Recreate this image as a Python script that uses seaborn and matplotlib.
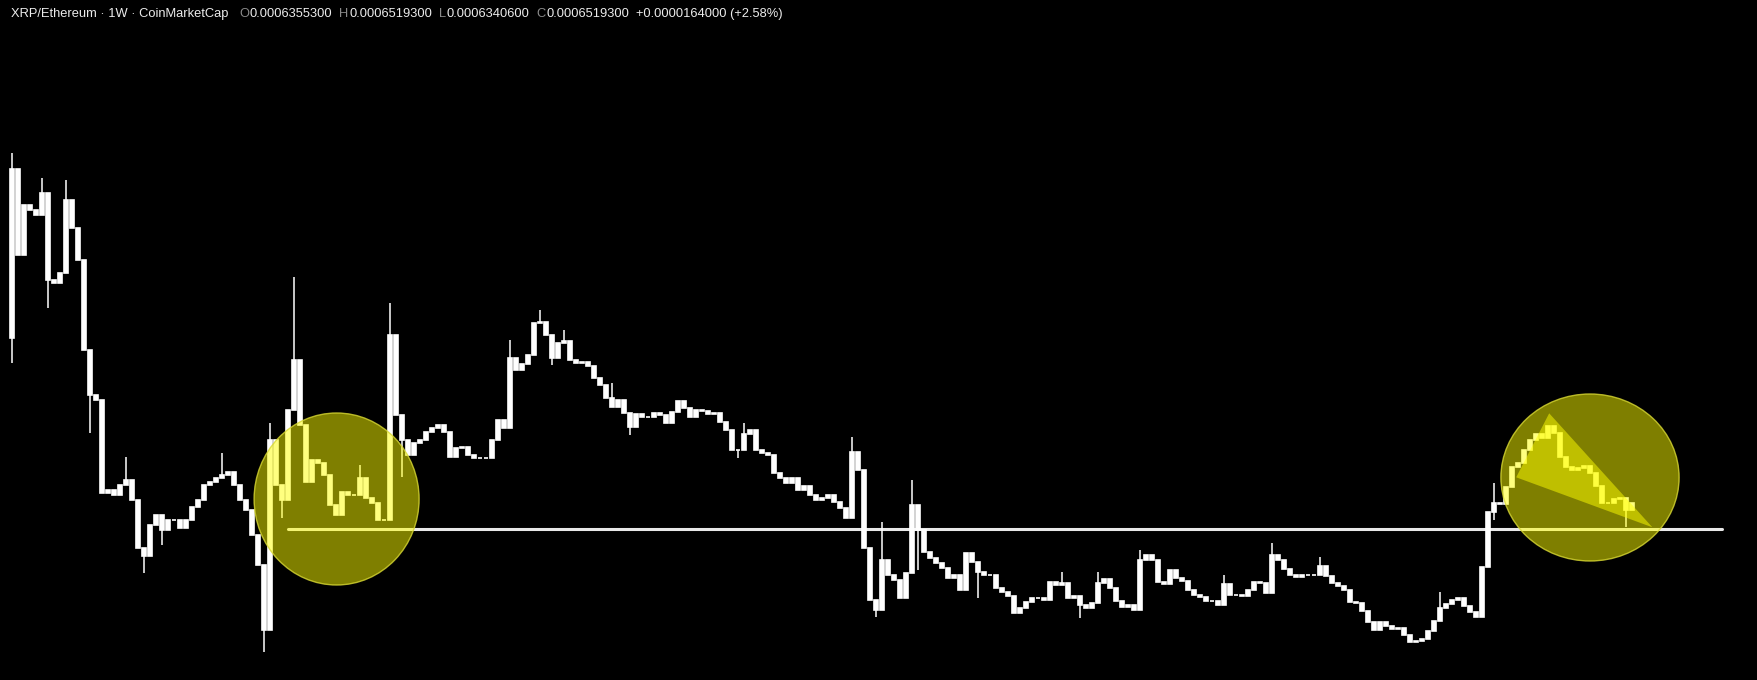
import numpy as np
import seaborn as sns
import matplotlib.pyplot as plt
from matplotlib.patches import Ellipse, Polygon

# XRP/ETH weekly closes, in chart points (1 pt = 3.56e-6 ETH)
close_pts = [
    518, 432, 482, 477, 472, 494, 407, 404, 414, 487, 459, 427, 337, 292, 287, 194, 197, 192, 202, 207,
    187, 139, 131, 162, 172, 157, 167, 167, 159, 167, 180, 187, 202, 205, 209, 212, 215, 202, 187, 177,
    152, 122, 57, 247, 202, 187, 277, 327, 262, 205, 227, 224, 212, 182, 172, 195, 192, 192, 209, 189,
    184, 167, 167, 352, 272, 247, 232, 244, 247, 255, 259, 262, 255, 230, 239, 240, 232, 229, 229, 229,
    247, 267, 259, 329, 317, 323, 332, 364, 365, 352, 329, 344, 346, 327, 324, 325, 321, 309, 302, 289,
    280, 287, 274, 260, 273, 270, 270, 274, 272, 264, 275, 286, 279, 270, 277, 276, 273, 274, 265, 257,
    237, 237, 253, 257, 237, 234, 232, 214, 209, 204, 209, 197, 201, 192, 187, 189, 192, 185, 179, 169,
    235, 217, 139, 87, 77, 127, 112, 107, 89, 114, 182, 157, 135, 129, 124, 119, 109, 112, 97, 134,
    125, 115, 112, 112, 99, 95, 91, 74, 79, 85, 89, 89, 87, 105, 102, 104, 89, 91, 82, 79,
    84, 104, 108, 99, 86, 80, 82, 77, 127, 132, 127, 105, 103, 117, 109, 106, 97, 92, 90, 86,
    86, 82, 103, 92, 92, 91, 97, 105, 104, 94, 132, 127, 118, 112, 110, 112, 112, 112, 121, 111,
    104, 101, 97, 85, 84, 76, 65, 57, 65, 61, 58, 59, 52, 45, 46, 48, 56, 66, 79, 83,
    87, 89, 81, 75, 70, 120, 175, 184, 183, 200, 220, 224, 237, 247, 253, 249, 261, 254, 230, 220,
    217, 219, 221, 214, 201, 184, 184, 188, 189, 177, 184,
]
first_open_pts = 349

# notable wicks
high_idx = [0, 5, 9, 12, 19, 35, 43, 47, 58, 63, 83, 88, 92, 100, 122, 140, 145, 150, 175, 181, 188, 202, 210, 218, 238, 247]
high_pts = [534, 509, 507, 360, 230, 234, 264, 410, 222, 384, 347, 377, 357, 304, 264, 250, 165, 207, 115, 115, 137, 112, 144, 130, 95, 204]
low_idx = [0, 6, 13, 22, 25, 42, 45, 65, 90, 103, 121, 144, 151, 161, 178, 247, 269]
low_pts = [324, 379, 254, 114, 142, 35, 169, 210, 322, 252, 229, 70, 117, 89, 69, 167, 160]

# annotations
support_pts = 158
support_span = [46, 285]
zone_centers = [(54.1, 188), (263.0, 209.5)]
zone_sizes = [(27.5, 172), (29.7, 167)]
wedge_pts = [(256.2, 273.7), (250.7, 209.7), (273.4, 159.7)]

header = 'XRP/Ethereum · 1W · CoinMarketCap'
ohlc_labels = ['O', 'H', 'L', 'C']
ohlc_values = ['0.0006355300', '0.0006519300', '0.0006340600', '0.0006519300']
change_text = '+0.0000164000 (+2.58%)'

pt = 3.56e-6
close = np.array(close_pts) * pt
opens = np.r_[first_open_pts * pt, close[:-1]]
idx = np.arange(len(close))

sns.set_style('dark', {'axes.facecolor': 'black', 'figure.facecolor': 'black'})
plt.rcParams['font.family'] = ['Liberation Sans', 'DejaVu Sans']

W, H = 1757, 680
fig = plt.figure(figsize=(W / 100, H / 100), dpi=100)
ax = fig.add_axes([0, 0, 1, 1])
ax.set_facecolor('black')

# candle bodies
lo = np.minimum(opens, close)
ax.bar(idx, np.abs(close - opens), bottom=lo, width=0.82, color='white',
       edgecolor='white', linewidth=1.2, zorder=3)

# wicks
for i, h in zip(high_idx, high_pts):
    ax.vlines(i, max(opens[i], close[i]), h * pt, color='white', lw=1.1, zorder=3)
for i, l in zip(low_idx, low_pts):
    ax.vlines(i, l * pt, min(opens[i], close[i]), color='white', lw=1.1, zorder=3)

# support line
sns.lineplot(x=support_span, y=[support_pts * pt] * 2, ax=ax, color='#e8e8e8',
             lw=2.2, zorder=2)

# highlighted zones
for (cx, cy), (w, h) in zip(zone_centers, zone_sizes):
    ax.add_patch(Ellipse((cx, cy * pt), w, h * pt, facecolor=(1, 1, 0, 0.5),
                         edgecolor=(0.85, 0.85, 0.2, 0.8), lw=1, zorder=4))
ax.add_patch(Polygon([(x, y * pt) for x, y in wedge_pts], closed=True,
                     facecolor=(1, 1, 0, 0.5), edgecolor='none', zorder=5))

ax.set_xlim(-2, (W - 12) / 6)
ax.set_ylim(7 * pt, 687 * pt)
ax.set_axis_off()

# header line
fig.canvas.draw()
r = fig.canvas.get_renderer()
xpos = 11
ypos = 1 - 14 / H

def put(s, color, gap):
    global xpos
    t = fig.text(xpos / W, ypos, s, color=color, fontsize=9.3, va='center', ha='left')
    xpos = t.get_window_extent(r).x1 + gap

put(header, '#ececec', 11)
for lab, val in zip(ohlc_labels, ohlc_values):
    put(lab, '#8a8a8a', 0.5)
    put(val, '#ececec', 7)
put(change_text, '#ececec', 0)

fig.savefig('out.png', dpi=100, facecolor='black')
